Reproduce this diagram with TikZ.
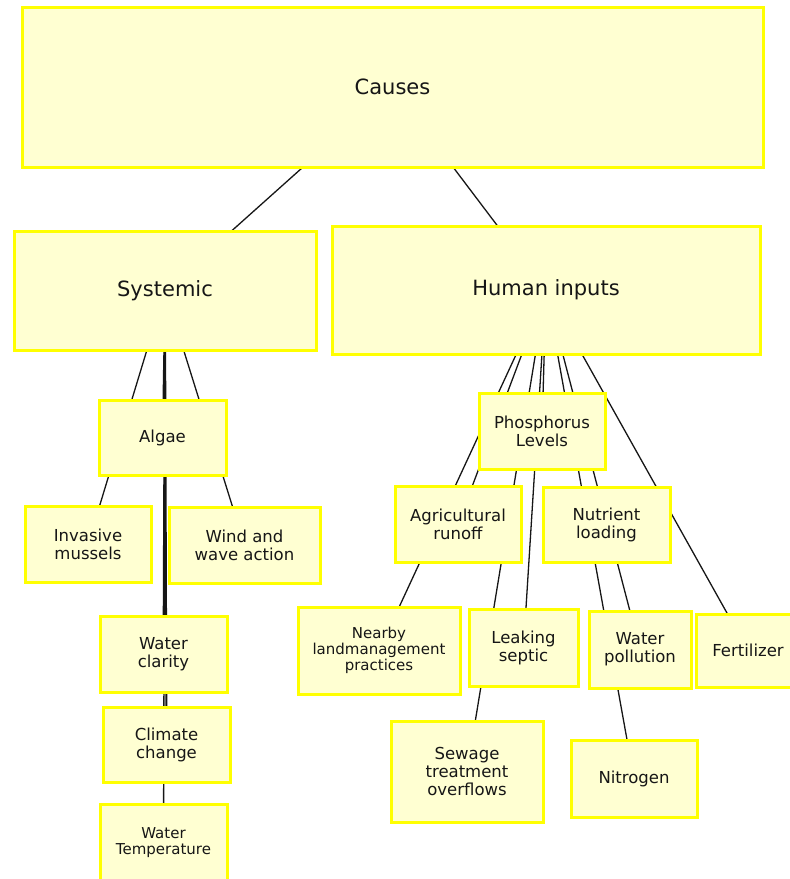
\documentclass[tikz,border=0pt]{standalone}
\usepackage{fontspec}
\setmainfont{DejaVu Sans}
\usetikzlibrary{backgrounds}
\definecolor{boxfill}{RGB}{255,255,210}
\definecolor{boxedge}{RGB}{255,255,0}
\definecolor{ink}{RGB}{22,22,22}
\tikzset{
  cbox/.style={draw=boxedge, fill=boxfill, line width=3pt, inner sep=0pt, align=center, text=ink},
  bigtext/.style={font=\fontsize{21}{24}\selectfont},
  midtext/.style={font=\fontsize{16.5}{18}\selectfont},
  smalltext/.style={font=\fontsize{15}{16}\selectfont},
  link/.style={draw=ink, line width=1.3pt},
  trunklink/.style={draw=ink, line width=1.9pt}
}
\begin{document}
\begin{tikzpicture}[x=1pt,y=-1pt]
\useasboundingbox (0,0) rectangle (790,879);
% nodes
\node[cbox,bigtext,minimum width=741pt,minimum height=160pt] (causes) at (392.5,87) {Causes};
\node[cbox,bigtext,minimum width=302pt,minimum height=119pt] (systemic) at (165,290.5) {Systemic};
\node[cbox,bigtext,minimum width=428pt,minimum height=128pt] (human) at (546,290) {Human inputs};
\node[cbox,midtext,minimum width=127pt,minimum height=75pt] (algae) at (162.5,437.5) {Algae};
\node[cbox,midtext,minimum width=126pt,minimum height=76pt] (mussels) at (88,544) {Invasive\\mussels};
\node[cbox,midtext,minimum width=151pt,minimum height=76pt] (wind) at (244.5,545) {Wind and\\wave action};
\node[cbox,midtext,minimum width=127pt,minimum height=76pt] (clarity) at (163.5,654) {Water\\clarity};
\node[cbox,midtext,minimum width=127pt,minimum height=75pt] (climate) at (166.5,744.5) {Climate\\change};
\node[cbox,smalltext,minimum width=127pt,minimum height=78pt] (temp) at (163.5,843) {Water\\Temperature};
\node[cbox,midtext,minimum width=126pt,minimum height=76pt] (phos) at (542,431) {Phosphorus\\Levels};
\node[cbox,midtext,minimum width=126pt,minimum height=76pt] (agri) at (458,524) {Agricultural\\runoff};
\node[cbox,midtext,minimum width=127pt,minimum height=75pt] (nutrient) at (606.5,524.5) {Nutrient\\loading};
\node[cbox,smalltext,minimum width=162pt,minimum height=87pt] (nearby) at (379,650.5) {Nearby\\landmanagement\\practices};
\node[cbox,midtext,minimum width=109pt,minimum height=77pt] (septic) at (523.5,647.5) {Leaking\\septic};
\node[cbox,midtext,minimum width=102pt,minimum height=77pt] (pollution) at (640,649.5) {Water\\pollution};
\node[cbox,midtext,minimum width=104pt,minimum height=73pt] (fert) at (748,650.5) {Fertilizer};
\node[cbox,midtext,minimum width=152pt,minimum height=101pt] (sewage) at (467,771.5) {Sewage\\treatment\\overflows};
\node[cbox,midtext,minimum width=126pt,minimum height=77pt] (nitrogen) at (634,778.5) {Nitrogen};
% connectors behind the boxes
\begin{scope}[on background layer]
\draw[link] (causes.center) -- (systemic.center);
\draw[link] (causes.center) -- (human.center);
\draw[link] (systemic.center) -- (algae.center);
\draw[link] (systemic.center) -- (mussels.center);
\draw[link] (systemic.center) -- (wind.center);
\draw[trunklink] (systemic.center) -- (clarity.center);
\draw[trunklink] (systemic.center) -- (climate.center);
\draw[link] (systemic.center) -- (temp.center);
\draw[link] (human.center) -- (phos.center);
\draw[link] (human.center) -- (agri.center);
\draw[link] (human.center) -- (nearby.center);
\draw[link] (human.center) -- (septic.center);
\draw[link] (human.center) -- (sewage.center);
\draw[link] (human.center) -- (pollution.center);
\draw[link] (human.center) -- (nitrogen.center);
\draw[link] (human.center) -- (fert.center);
\end{scope}
\end{tikzpicture}
\end{document}
